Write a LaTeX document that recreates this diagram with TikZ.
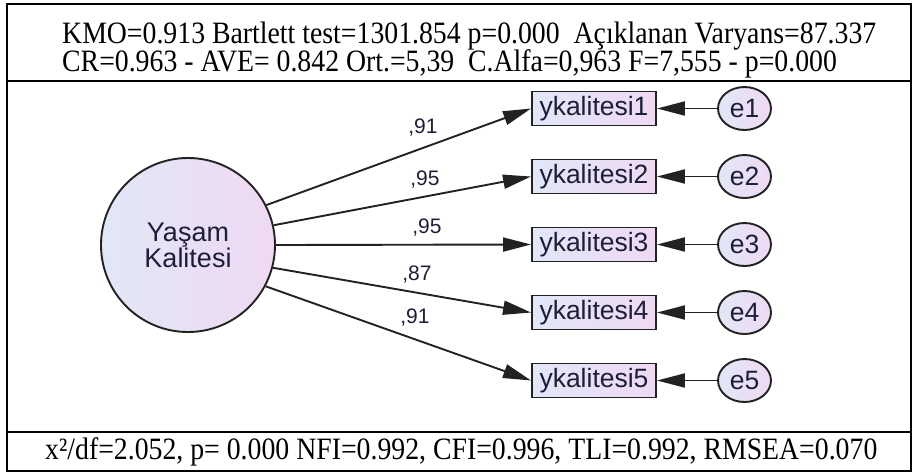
\documentclass[tikz,border=0pt]{standalone}
\usepackage{fontspec}
\setmainfont{Liberation Serif}
\newfontfamily\arialf{Liberation Sans}
\usetikzlibrary{arrows.meta,shapes.geometric}
\definecolor{lineC}{HTML}{222222}
\definecolor{fillL}{HTML}{E2E7F6}
\definecolor{fillR}{HTML}{EFD9F3}
\definecolor{txtC}{HTML}{1E1E3A}
\newcommand{\tallT}[1]{\scalebox{1.01}[1.13]{#1}}
\begin{document}
\begin{tikzpicture}[x=1pt,y=-1pt,
  frame/.style={line width=2.6pt, black},
  obs/.style={draw=lineC, line width=1.9pt, left color=fillL, right color=fillR,
    minimum width=124pt, minimum height=34pt, inner sep=0pt, text=txtC,
    font=\arialf\fontsize{26.5}{26.5}\selectfont},
  err/.style={ellipse, draw=lineC, line width=1.9pt, left color=fillL, right color=fillR,
    minimum width=53pt, minimum height=43pt, inner sep=0pt, text=txtC,
    font=\arialf\fontsize{26.5}{26.5}\selectfont},
  lat/.style={circle, draw=lineC, line width=1.9pt, left color=fillL, right color=fillR,
    minimum size=174pt, inner sep=0pt, text=txtC, align=center,
    font=\arialf\fontsize{27}{26}\selectfont},
  pth/.style={draw=lineC, line width=1.9pt, -{Triangle[length=28pt,width=14pt]}},
  lbl/.style={text=txtC, inner sep=0pt, font=\arialf\fontsize{21}{21}\selectfont},
  toptxt/.style={inner sep=0pt, anchor=west, font=\fontsize{27.5}{27.5}\selectfont}
]
\useasboundingbox (0,0) rectangle (913,475);
% frame
\draw[frame] (7,4) rectangle (911,471);
\draw[frame] (7,81) -- (911,81);
\draw[frame] (7,432) -- (911,432);
% texts
\node[toptxt] (t1) at (62,36) {\tallT{KMO=0.913 Bartlett test=1301.854 p=0.000~ Açıklanan Varyans=87.337}};
\node[toptxt] (t2) at (62,64) {\tallT{CR=0.963 - AVE= 0.842 Ort.=5,39~ C.Alfa=0,963 F=7,555 - p=0.000}};
\node[toptxt] (t3) at (45,452) {\tallT{x²/df=2.052, p= 0.000 NFI=0.992, CFI=0.996, TLI=0.992, RMSEA=0.070}};
% latent
\node[lat] (lv) at (188,245) {Yaşam\\Kalitesi};
% observed and errors
\foreach \i/\yy in {1/108.5,2/176.5,3/244.5,4/312.5,5/380.5}{
  \node[obs] (y\i) at (594,\yy) {ykalitesi\i};
  \node[err] (e\i) at (744.5,\yy) {e\i};
  \draw[pth] (e\i) -- (y\i);
}
\draw[pth] (lv.27) -- (y1.west);
\draw[pth] (lv.13) -- (y2.west);
\draw[pth] (lv.0) -- (y3.west);
\draw[pth] (lv.-15) -- (y4.west);
\draw[pth] (lv.-28) -- (y5.west);
\node[lbl] (l1) at (423,128) {,91};
\node[lbl] (l2) at (425,180) {,95};
\node[lbl] (l3) at (427,228) {,95};
\node[lbl] (l4) at (417,275) {,87};
\node[lbl] (l5) at (415,318) {,91};
\end{tikzpicture}
\end{document}
